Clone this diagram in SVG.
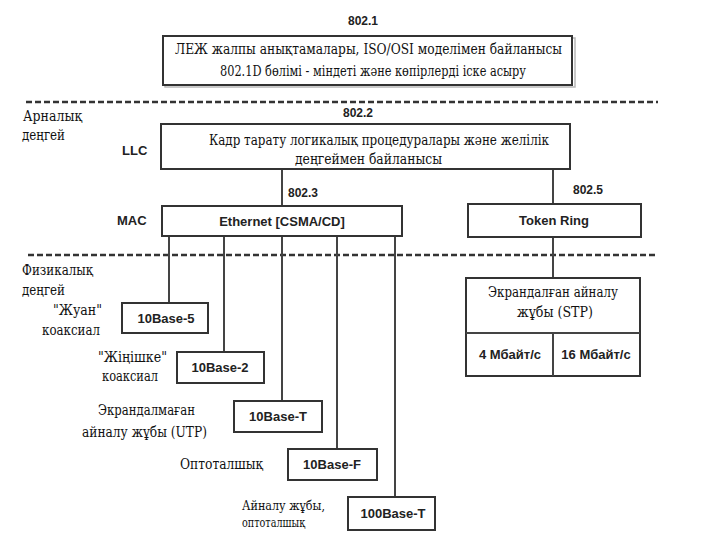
<svg xmlns="http://www.w3.org/2000/svg" width="720" height="540" viewBox="0 0 720 540">
<style>
.bg{fill:#ffffff}
.box{fill:#ffffff;stroke:#333333;stroke-width:2}
.sh{fill:none;stroke:#b8b8b8;stroke-width:1.5}
.dash{stroke:#333333;stroke-width:2.5;stroke-dasharray:6 3;fill:none}
.ln{stroke:#444444;stroke-width:2;fill:none}
.sans{font-family:"Liberation Sans",Arial,sans-serif;font-weight:bold;font-size:13px;fill:#222222}
.num{font-family:"Liberation Sans",Arial,sans-serif;font-weight:bold;font-size:12px;fill:#222222}
.ser{font-family:"DejaVu Serif Condensed","DejaVu Serif","Liberation Serif",serif;font-size:15px;fill:#111111}
.sm{font-family:"DejaVu Serif Condensed","DejaVu Serif","Liberation Serif",serif;font-size:12.5px;fill:#111111}
.mid{text-anchor:middle}
</style>
<rect class="bg" x="0" y="0" width="720" height="540"/>

<g id="layer-dividers">
<line class="dash" x1="26" y1="102" x2="658" y2="102"/>
<line class="dash" x1="28" y1="255" x2="657" y2="255"/>
</g>

<g id="layer-labels">
<text class="ser" x="23" y="121" textLength="59" lengthAdjust="spacingAndGlyphs">Арналық</text>
<text class="ser" x="22" y="140" textLength="43" lengthAdjust="spacingAndGlyphs">деңгей</text>
<text class="ser" x="22" y="275" textLength="71" lengthAdjust="spacingAndGlyphs">Физикалық</text>
<text class="ser" x="22" y="295" textLength="43" lengthAdjust="spacingAndGlyphs">деңгей</text>
<text class="sans" x="122" y="155">LLC</text>
<text class="sans" x="117" y="225">MAC</text>
</g>

<g id="connectors">
<line class="ln" x1="282" y1="169" x2="282" y2="206"/>
<line class="ln" x1="553" y1="169" x2="553" y2="204"/>
<line class="ln" x1="169" y1="236" x2="169" y2="303"/>
<line class="ln" x1="224" y1="236" x2="224" y2="352"/>
<line class="ln" x1="282" y1="236" x2="282" y2="401"/>
<line class="ln" x1="337" y1="236" x2="337" y2="449"/>
<line class="ln" x1="395" y1="236" x2="395" y2="497"/>
<line class="ln" x1="553" y1="237" x2="553" y2="278"/>
<text class="num" x="288" y="197">802.3</text>
<text class="num" x="573" y="194">802.5</text>
</g>

<g id="node-8021">
<text class="num mid" x="363" y="25">802.1</text>
<rect class="sh" x="165" y="38" width="410" height="49"/>
<rect class="box" x="163" y="36" width="409" height="49"/>
<text class="ser" x="175" y="54" textLength="387" lengthAdjust="spacingAndGlyphs">ЛЕЖ жалпы анықтамалары, ISO/OSI моделімен байланысы</text>
<text class="ser" x="220" y="76" textLength="306" lengthAdjust="spacingAndGlyphs">802.1D бөлімі - міндеті және көпірлерді іске асыру</text>
</g>

<g id="node-llc">
<text class="num" x="343" y="117">802.2</text>
<rect class="box" x="161" y="124" width="409" height="45"/>
<text class="ser" x="209" y="145" textLength="340" lengthAdjust="spacingAndGlyphs">Кадр тарату логикалық процедуралары және желілік</text>
<text class="ser" x="295" y="164" textLength="147" lengthAdjust="spacingAndGlyphs">деңгеймен байланысы</text>
</g>

<g id="node-ethernet">
<rect class="box" x="162" y="206" width="240" height="30"/>
<text class="sans mid" x="282" y="226">Ethernet [CSMA/CD]</text>
</g>

<g id="node-tokenring">
<rect class="box" x="468" y="204" width="173" height="33"/>
<text class="sans mid" x="554" y="225">Token Ring</text>
</g>

<g id="node-stp">
<rect class="box" x="466" y="278" width="174" height="98"/>
<line class="ln" x1="466" y1="333" x2="640" y2="333"/>
<line class="ln" x1="553" y1="333" x2="553" y2="376"/>
<text class="ser" x="488" y="297" textLength="130" lengthAdjust="spacingAndGlyphs">Экрандалған айналу</text>
<text class="ser" x="517" y="317" textLength="76" lengthAdjust="spacingAndGlyphs">жұбы (STP)</text>
<text class="sans mid" x="510" y="359">4 Мбайт/с</text>
<text class="sans mid" x="596" y="359">16 Мбайт/с</text>
</g>

<g id="node-10base5">
<rect class="box" x="122" y="303" width="86" height="30"/>
<text class="sans mid" x="166" y="323">10Base-5</text>
<text class="ser" x="53" y="315" textLength="49" lengthAdjust="spacingAndGlyphs">"Жуан"</text>
<text class="ser" x="42" y="335" textLength="58" lengthAdjust="spacingAndGlyphs">коаксиал</text>
</g>

<g id="node-10base2">
<rect class="box" x="177" y="352" width="87" height="31"/>
<text class="sans mid" x="220" y="372">10Base-2</text>
<text class="ser" x="98" y="362" textLength="69" lengthAdjust="spacingAndGlyphs">"Жіңішке"</text>
<text class="ser" x="102" y="381" textLength="56" lengthAdjust="spacingAndGlyphs">коаксиал</text>
</g>

<g id="node-10baseT">
<rect class="box" x="234" y="401" width="88" height="31"/>
<text class="sans mid" x="278" y="421">10Base-T</text>
<text class="ser" x="98" y="415" textLength="97" lengthAdjust="spacingAndGlyphs">Экрандалмаған</text>
<text class="ser" x="82" y="437" textLength="125" lengthAdjust="spacingAndGlyphs">айналу жұбы (UTP)</text>
</g>

<g id="node-10baseF">
<rect class="box" x="288" y="449" width="89" height="31"/>
<text class="sans mid" x="332" y="469">10Base-F</text>
<text class="ser" x="180" y="469" textLength="83" lengthAdjust="spacingAndGlyphs">Оптоталшық</text>
</g>

<g id="node-100baseT">
<rect class="box" x="348" y="497" width="87" height="33"/>
<text class="sans mid" x="393" y="518">100Base-T</text>
<text class="sm" x="242" y="510" textLength="83" lengthAdjust="spacingAndGlyphs">Айналу жұбы,</text>
<text class="sm" x="242" y="527" textLength="63" lengthAdjust="spacingAndGlyphs">оптоталшық</text>
</g>
</svg>
